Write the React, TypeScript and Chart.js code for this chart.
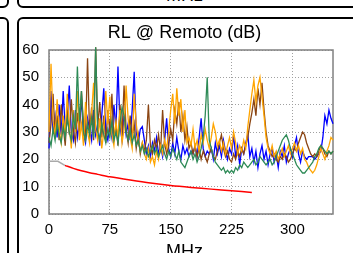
import React, { useEffect, useRef } from "react";
import { Chart, registerables } from "chart.js";

Chart.register(...registerables);

const TITLE = "RL @ Remoto (dB)";
const X_TITLE = "MHz";
const X_TICKS = [0, 75, 150, 225, 300];
const Y_TICKS = [0, 10, 20, 30, 40, 50, 60];

const FREQ = [
  0, 2.5, 5, 7.5, 10, 12.5, 15, 17.5, 20, 22.5,
  25, 27.5, 30, 32.5, 35, 37.5, 40, 42.5, 45, 47.5,
  50, 52.5, 55, 57.5, 60, 62.5, 65, 67.5, 70, 72.5,
  75, 77.5, 80, 82.5, 85, 87.5, 90, 92.5, 95, 97.5,
  100, 102.5, 105, 107.5, 110, 112.5, 115, 117.5, 120, 122.5,
  125, 127.5, 130, 132.5, 135, 137.5, 140, 142.5, 145, 147.5,
  150, 152.5, 155, 157.5, 160, 162.5, 165, 167.5, 170, 172.5,
  175, 177.5, 180, 182.5, 185, 187.5, 190, 192.5, 195, 197.5,
  200, 202.5, 205, 207.5, 210, 212.5, 215, 217.5, 220, 222.5,
  225, 227.5, 230, 232.5, 235, 237.5, 240, 242.5, 245, 247.5,
  250, 252.5, 255, 257.5, 260, 262.5, 265, 267.5, 270, 272.5,
  275, 277.5, 280, 282.5, 285, 287.5, 290, 292.5, 295, 297.5,
  300, 302.5, 305, 307.5, 310, 312.5, 315, 317.5, 320, 322.5,
  325, 327.5, 330, 332.5, 335, 337.5, 340, 342.5, 345, 347.5,
  350,
];

const BLUE_DB = [
  24, 45, 30, 36, 28, 40, 29, 45, 31, 35,
  47, 30, 27, 38, 28, 33, 42, 29, 26, 35,
  31, 27, 38, 29, 33, 25, 36, 46, 30, 27,
  33, 28, 40, 31, 54, 32, 27, 36, 29, 33,
  27, 38, 52, 30, 26, 31, 32, 27, 22, 25,
  21, 26, 23, 28, 22, 25, 21, 27, 35, 24,
  21, 26, 22, 28, 23, 20, 25, 22, 24, 21,
  23, 22, 25, 21, 28, 35, 24, 21, 23, 22,
  24, 20, 26, 22, 25, 21, 27, 23, 20, 24,
  22, 29, 21, 25, 18, 24, 22, 26, 29, 21,
  24, 19, 23, 17, 22, 25, 20, 23, 18, 22,
  24, 19, 22, 17, 23, 21, 25, 19, 22, 24,
  21, 25, 28, 22, 19, 23, 21, 20, 21, 21,
  21, 20, 21, 22, 23, 28, 36, 33, 38, 35,
  33,
];

const ORANGE_DB = [
  30, 55, 34, 28, 42, 31, 26, 36, 29, 44,
  32, 24, 38, 30, 45, 27, 33, 25, 41, 30,
  26, 37, 48, 31, 27, 35, 24, 30, 45, 33,
  43, 29, 25, 34, 28, 38, 26, 31, 47, 35,
  28, 24, 44, 33, 27, 23, 26, 22, 20, 24,
  19, 21, 18, 23, 20, 25, 22, 27, 24, 30,
  38, 44, 33, 46, 36, 42, 30, 38, 26, 28,
  25, 31, 24, 27, 23, 29, 26, 31, 27, 24,
  28, 33, 30, 25, 27, 23, 26, 22, 25, 28,
  24, 30, 26, 22, 25, 23, 27, 24, 32, 38,
  44, 49, 41, 47, 50, 43, 36, 28, 24, 22,
  25, 21, 23, 20, 22, 24, 21, 23, 25, 22,
  24, 26, 23, 25, 22, 24, 20, 19, 17, 16,
  15, 16, 18, 21, 24, 22, 20, 23, 25, 28,
  27,
];

const BROWN_DB = [
  26, 33, 44, 29, 36, 27, 40, 32, 25, 38,
  29, 42, 31, 26, 37, 30, 45, 33, 28, 57,
  30, 39, 27, 61, 32, 41, 28, 36, 26, 38,
  30, 44, 27, 33, 25, 40, 29, 47, 31, 26,
  36, 28, 33, 24, 29, 22, 26, 23, 27, 40,
  25, 22, 27, 24, 29, 23, 38, 26, 22, 25,
  31, 27, 38, 33, 41, 30, 36, 27, 32, 24,
  26, 22, 25, 21, 24, 20, 23, 21, 19, 22,
  24, 21, 20, 23, 26, 29, 24, 21, 23, 20,
  19, 22, 20, 23, 21, 24, 22, 25, 28, 33,
  37, 42, 36, 46, 40, 48, 38, 30, 25, 23,
  21, 22, 20, 19, 21, 20, 22, 21, 19, 20,
  22, 24, 23, 26, 28, 30, 29, 26, 24, 22,
  21, 22, 21, 23, 25, 24, 22, 21, 23, 22,
  23,
];

const GREEN_DB = [
  28, 25, 31, 27, 33, 29, 26, 32, 28, 35,
  30, 27, 36, 31, 54, 34, 45, 30, 27, 33,
  29, 35, 28, 61, 30, 27, 33, 29, 26, 31,
  28, 34, 27, 30, 26, 33, 39, 36, 30, 27,
  31, 26, 29, 25, 27, 23, 25, 22, 24, 21,
  23, 25, 22, 24, 21, 23, 25, 22, 20, 23,
  21, 24, 22, 20, 23, 19, 18, 17, 19, 21,
  23, 20, 22, 19, 21, 24, 28, 36, 50, 27,
  24, 21, 19, 18, 17, 16, 17, 15, 16, 15,
  16, 15, 17, 16, 18, 17, 19, 18, 17, 18,
  19, 20, 18, 19, 21, 20, 19, 18, 19, 20,
  18, 19, 21, 23, 25, 27, 28, 29, 27, 24,
  22, 20, 18, 17, 16, 15, 15, 16, 17, 18,
  19, 21, 22, 24, 25, 24, 23, 22, 23, 22,
  23,
];

const LIMIT_FREQ = [19.5, 30, 40, 50, 60, 75, 100, 125, 150, 175, 200, 225, 250];
const LIMIT_DB = [17.8, 16.7, 15.8, 15.1, 14.5, 13.6, 12.4, 11.3, 10.4, 9.7, 9.1, 8.5, 7.9];
const LOW_FREQ = [0, 11, 19.5];
const LOW_DB = [19.3, 19.3, 17.8];

const FONT = "'Liberation Sans', Arial, Helvetica, sans-serif";

const toPts = (xs: number[], ys: number[]) => xs.map((x, i) => ({ x, y: ys[i] }));

const framePlugin = {
  id: "frameAndTitles",
  beforeDatasetsDraw(chart: any) {
    const { ctx, chartArea: a } = chart;
    ctx.save();
    ctx.strokeStyle = "#808080";
    ctx.lineWidth = 1.5;
    ctx.strokeRect(a.left, a.top, a.right - a.left, a.bottom - a.top);
    ctx.restore();
  },
  afterDraw(chart: any) {
    const { ctx, chartArea: a } = chart;
    ctx.save();
    ctx.fillStyle = "#000";
    ctx.font = `18px ${FONT}`;
    ctx.textAlign = "center";
    ctx.textBaseline = "middle";
    ctx.fillText(TITLE, chart.width / 2, a.top - 17);
    ctx.fillText(X_TITLE, chart.width / 2, a.bottom + 38);
    ctx.restore();
  },
};

const panel: React.CSSProperties = {
  position: "absolute",
  boxSizing: "border-box",
  border: "2px solid #000",
  borderRadius: 6,
};

export default function App() {
  const ref = useRef<HTMLCanvasElement>(null);

  useEffect(() => {
    const trace = (data: number[], color: string) => ({
      data: toPts(FREQ, data),
      borderColor: color,
      borderWidth: 1.3,
      pointRadius: 0,
      tension: 0,
      clip: false as any,
    });
    const chart = new Chart(ref.current!, {
      type: "line",
      data: {
        datasets: [
          {
            data: toPts(LOW_FREQ, LOW_DB),
            borderColor: "#aaaaaa",
            borderWidth: 1.5,
            pointRadius: 0,
          },
          {
            data: toPts(LIMIT_FREQ, LIMIT_DB),
            borderColor: "#ff0000",
            borderWidth: 1.5,
            pointRadius: 0,
            tension: 0.3,
          },
          trace(GREEN_DB, "#2e8b57"),
          trace(ORANGE_DB, "#ffa500"),
          trace(BROWN_DB, "#8b4513"),
          trace(BLUE_DB, "#0000ff"),
        ],
      },
      options: {
        animation: false,
        responsive: false,
        devicePixelRatio: 1,
        layout: { padding: { left: 0, right: 17, top: 31, bottom: 0 } },
        plugins: {
          legend: { display: false },
          tooltip: { enabled: false },
          title: { display: false },
        },
        scales: {
          x: {
            type: "linear",
            min: 0,
            max: 350,
            afterBuildTicks: (s: any) => {
              s.ticks = X_TICKS.map((v) => ({ value: v }));
            },
            afterFit: (s: any) => {
              s.height = 48;
            },
            ticks: {
              color: "#000",
              font: { family: FONT, size: 15 },
              padding: 7,
              maxRotation: 0,
            },
            grid: { color: "#a0a0a0", lineWidth: 1, drawTicks: false },
            border: { display: false, dash: [1, 2] },
          },
          y: {
            type: "linear",
            min: 0,
            max: 60,
            afterBuildTicks: (s: any) => {
              s.ticks = Y_TICKS.map((v) => ({ value: v }));
            },
            afterFit: (s: any) => {
              s.width = 30;
            },
            ticks: {
              color: "#000",
              font: { family: FONT, size: 15 },
              padding: 10,
            },
            grid: { color: "#a0a0a0", lineWidth: 1, drawTicks: false },
            border: { display: false, dash: [1, 2] },
          },
        },
      },
      plugins: [framePlugin],
    });
    return () => chart.destroy();
  }, []);

  return (
    <div
      style={{
        position: "fixed",
        left: 0,
        top: 0,
        width: 353,
        height: 253,
        overflow: "hidden",
        background: "#fff",
      }}
    >
      <div style={{ ...panel, left: -100, top: -100, width: 109, height: 108 }} />
      <div style={{ ...panel, left: -100, top: 17, width: 109, height: 300 }} />
      <div style={{ ...panel, left: 17, top: -100, width: 400, height: 108 }} />
      <div style={{ ...panel, left: 17, top: 17, width: 400, height: 300 }} />
      <div
        style={{
          position: "absolute",
          left: 19,
          top: -14,
          width: 331,
          textAlign: "center",
          fontFamily: FONT,
          fontSize: 18,
          lineHeight: "18px",
          color: "#000",
        }}
      >
        {X_TITLE}
      </div>
      <canvas
        ref={ref}
        width={331}
        height={243}
        style={{ position: "absolute", left: 19, top: 19, width: 331, height: 243 }}
      />
    </div>
  );
}
